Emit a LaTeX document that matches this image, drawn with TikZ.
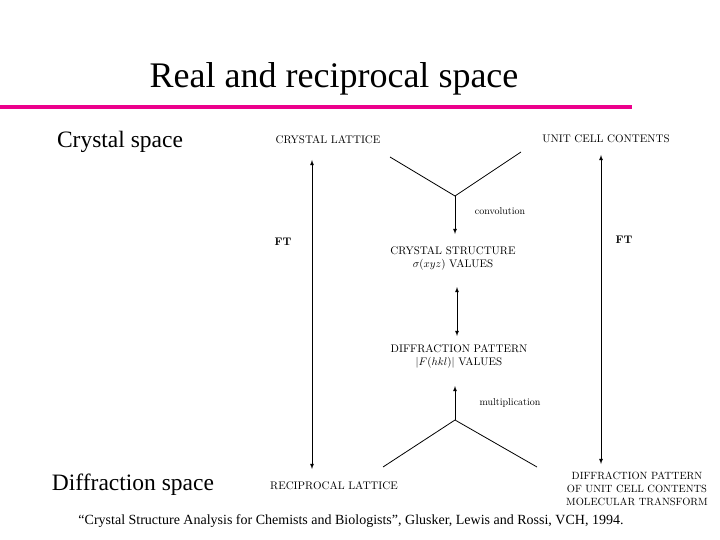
\documentclass[tikz,border=0pt]{standalone}
\usepackage{fontspec}
\setmainfont{Liberation Serif}
\newfontfamily\lm{Latin Modern Roman}
\begin{document}
\begin{tikzpicture}[x=1pt,y=-1pt,
  lab/.style={font=\lm\fontsize{11}{13}\selectfont,inner sep=0pt,align=center},
  big/.style={font=\fontsize{23.5}{26}\selectfont,inner sep=0pt},
  ar/.style={-latex,line width=0.8pt},
  ln/.style={line width=0.8pt}]
\useasboundingbox (0,0) rectangle (720,540);
\node[font=\fontsize{36}{40}\selectfont,inner sep=0pt] (title) at (334,79) {Real and reciprocal space};
\coordinate (ml) at (0,107); \coordinate (mr) at (632,107);
\draw[magenta,line width=4pt] (ml) -- (mr);
\node[big] (cs) at (120,142) {Crystal space};
\node[big] (ds) at (133,485) {Diffraction space};
\node[font=\fontsize{14}{16}\selectfont,inner sep=0pt] (cite) at (351,521) {``Crystal Structure Analysis for Chemists and Biologists'', Glusker, Lewis and Rossi, VCH, 1994.};
\node[lab] (cl) at (328,140) {CRYSTAL LATTICE};
\node[lab] (uc) at (606,139) {UNIT CELL CONTENTS};
\node[lab] (cst) at (453,258) {CRYSTAL STRUCTURE\\$\sigma(xyz)$ VALUES};
\node[lab] (dp) at (459,356) {DIFFRACTION PATTERN\\$|F(hkl)|$ VALUES};
\node[lab] (rl) at (334,486) {RECIPROCAL LATTICE};
\node[lab,font=\lm\fontsize{10.5}{13}\selectfont] (dpu) at (637,489) {DIFFRACTION PATTERN\\OF UNIT CELL CONTENTS\\MOLECULAR TRANSFORM};
\node[lab,font=\lm\bfseries\fontsize{11}{13}\selectfont] (ft1) at (283,242) {FT};
\node[lab,font=\lm\bfseries\fontsize{11}{13}\selectfont] (ft2) at (624,240) {FT};
\node[lab,font=\lm\fontsize{10}{12}\selectfont] (conv) at (500,211) {convolution};
\node[lab,font=\lm\fontsize{10}{12}\selectfont] (mult) at (510,403) {multiplication};
\coordinate (y1a) at (390,157); \coordinate (y1b) at (521,152); \coordinate (y1c) at (455,196);
\coordinate (y1d) at (455,234);
\draw[ln] (y1a) -- (y1c) -- (y1b);
\draw[ar] (y1c) -- (y1d);
\coordinate (y2a) at (383,467); \coordinate (y2b) at (537,467); \coordinate (y2c) at (455,420);
\coordinate (y2d) at (455,386);
\draw[ln] (y2a) -- (y2c) -- (y2b);
\draw[ar] (y2c) -- (y2d);
\coordinate (m1) at (457,287); \coordinate (m2) at (457,336);
\draw[latex-latex,line width=0.8pt] (m1) -- (m2);
\coordinate (l1) at (312,160); \coordinate (l2) at (312,469);
\draw[latex-latex,line width=0.8pt] (l1) -- (l2);
\coordinate (r1) at (601,155); \coordinate (r2) at (601,464);
\draw[latex-latex,line width=0.8pt] (r1) -- (r2);
\end{tikzpicture}
\end{document}
